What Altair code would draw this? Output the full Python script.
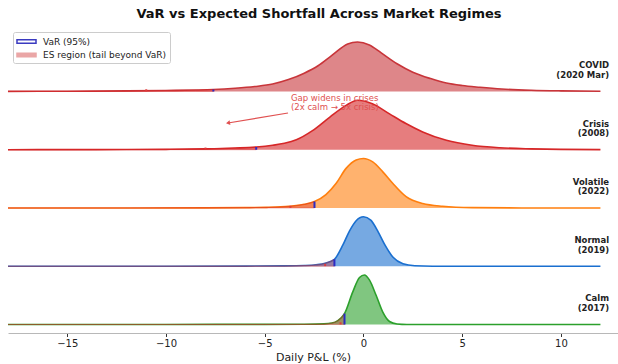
import altair as alt
import pandas as pd

# ---------------- data ----------------
regimes = ["Calm", "Normal", "Volatile", "Crisis", "COVID"]
periods = ["(2017)", "(2019)", "(2022)", "(2008)", "(2020 Mar)"]
colors = ["#2ca02c", "#1a6fcf", "#ff7f0e", "#d62728", "#c8353a"]

# density curves (relative to each ridge's peak)
calm_x = [-18, -10, -5, -3, -2, -1.6, -1.3, -0.96, -0.54, -0.2, 0.05, 0.3, 0.64, 0.98, 1.32, 1.7, 2.2, 4, 12]
calm_d = [0.0, 0.001, 0.003, 0.006, 0.012, 0.03, 0.08, 0.22, 0.66, 0.95, 1.0, 0.9, 0.59, 0.25, 0.06, 0.01, 0.0, 0.0, 0.0]
normal_x = [-18, -10, -6, -4, -3, -2.4, -1.94, -1.47, -1.04, -0.71, -0.37, 0.0, 0.37, 0.75, 1.1, 1.5, 2.0, 2.6, 3.5, 6, 12]
normal_d = [0.0, 0.001, 0.003, 0.007, 0.015, 0.03, 0.06, 0.14, 0.43, 0.71, 0.92, 1.0, 0.93, 0.69, 0.42, 0.18, 0.05, 0.01, 0.001, 0.0, 0.0]
volatile_x = [-18, -12, -8, -6, -4.9, -3.75, -3.0, -2.48, -1.9, -1.38, -0.88, -0.37, 0.0, 0.47, 0.98, 1.48, 2.16, 3.0, 4.0, 5.5, 8, 12]
volatile_d = [0.0, 0.001, 0.003, 0.007, 0.013, 0.035, 0.075, 0.13, 0.27, 0.5, 0.8, 0.97, 1.0, 0.93, 0.73, 0.5, 0.23, 0.09, 0.035, 0.008, 0.001, 0.0]
crisis_x = [-18, -15, -12, -10, -8, -6.5, -5.43, -4.6, -4.0, -3.4, -2.6, -1.7, -0.9, -0.3, 0.45, 1.3, 2.15, 3.0, 4.2, 5.5, 6.9, 8.5, 10, 12]
crisis_d = [0.001, 0.002, 0.004, 0.008, 0.018, 0.035, 0.055, 0.09, 0.13, 0.2, 0.38, 0.66, 0.89, 1.0, 0.93, 0.73, 0.53, 0.36, 0.19, 0.09, 0.04, 0.018, 0.008, 0.003]
covid_x = [-18, -15, -12, -10, -8.5, -7.6, -6.5, -5.5, -4.6, -3.8, -3.0, -2.3, -1.6, -0.8, -0.3, 0.3, 0.9, 1.7, 2.5, 3.4, 4.2, 5.0, 5.9, 7.0, 8.5, 10, 12]
covid_d = [0.003, 0.006, 0.012, 0.02, 0.03, 0.04, 0.065, 0.10, 0.15, 0.24, 0.37, 0.52, 0.73, 0.96, 1.0, 0.94, 0.78, 0.56, 0.39, 0.26, 0.17, 0.12, 0.085, 0.05, 0.025, 0.013, 0.006]

curves_x = [calm_x, normal_x, volatile_x, crisis_x, covid_x]
curves_d = [calm_d, normal_d, volatile_d, crisis_d, covid_d]

var_x = [-0.96, -1.47, -2.48, -5.43, -7.6]   # VaR (95%)
es_x = [-1.16, -1.94, -3.7, -8.0, -11.0]      # Expected shortfall

xticks = [-15, -10, -5, 0, 5, 10]
legend_names = ["VaR (95%)", "ES region (tail beyond VaR)"]
note_lines = ["Gap widens in crises", "(2x calm \u2192 5x crisis)"]

RIDGE_H = 0.85

# ---------------- tables ----------------
rows, tail_rows, var_rows, es_rows, lab_rows = [], [], [], [], []
for i, name in enumerate(regimes):
    for xv, dv in zip(curves_x[i], curves_d[i]):
        r = {"regime": name, "x": xv, "y": i + dv * RIDGE_H, "y2": i}
        rows.append(r)
        if xv <= var_x[i] + 1e-9:
            tail_rows.append(r)
        if abs(xv - var_x[i]) < 1e-9:
            var_rows.append({"regime": name, "x": xv, "y": i + dv * RIDGE_H, "y2": i})
    es_rows.append({"regime": name, "x": es_x[i], "y": i + 0.02})
    lab_rows.append({"x": 12.44, "y": i + 0.45, "t": name})
    lab_rows.append({"x": 12.44, "y": i + 0.287, "t": periods[i]})

curves = pd.DataFrame(rows)
tails = pd.DataFrame(tail_rows)
vars_df = pd.DataFrame(var_rows)
es_df = pd.DataFrame(es_rows)
labs = pd.DataFrame(lab_rows)
note_df = pd.DataFrame({"x": [-3.67, -3.67], "y": [3.888, 3.734], "t": note_lines})
arrow_df = pd.DataFrame({"x": [-3.82], "y": [3.631], "x2": [-6.86], "y2": [3.459]})
head_df = pd.DataFrame({"x": [-6.86], "y": [3.459]})
lg_df = pd.DataFrame({"lg": legend_names, "x": [100, 100], "y": [0, 0]})

# ---------------- encodings ----------------
X = alt.X("x:Q", scale=alt.Scale(domain=[-18, 12.89], nice=False, zero=False),
          axis=alt.Axis(values=xticks, title="Daily P&L (%)", grid=False,
                        tickSize=3.5, tickColor="#333333", domainColor="#b8b8b8",
                        labelFontSize=10, titleFontSize=11, labelPadding=2,
                        titlePadding=3, labelColor="#222222", titleColor="#222222",
                        titleFontWeight="normal"))
Y = alt.Y("y:Q", scale=alt.Scale(domain=[-0.146, 5.107], nice=False, zero=False), axis=None)
col = alt.Color("regime:N", scale=alt.Scale(domain=regimes, range=colors), legend=None)

fill_layer = alt.Chart(curves).mark_area(fillOpacity=0.6, interpolate="monotone").encode(
    x=X, y=Y, y2="y2:Q", color=col)
line_layer = alt.Chart(curves).mark_line(strokeWidth=1.6, interpolate="monotone").encode(
    x=X, y=Y, color=col)
tail_layer = alt.Chart(tails).mark_area(fill="#d62728", fillOpacity=0.35, stroke="#d62728",
                                        strokeOpacity=0.35, strokeWidth=1,
                                        interpolate="monotone").encode(
    x=X, y=Y, y2="y2:Q", detail="regime:N")
var_layer = alt.Chart(vars_df).mark_rule(color="#2b2bc4", strokeWidth=2).encode(
    x=X, y=Y, y2="y2:Q")
es_layer = alt.Chart(es_df).mark_square(color="#e03a3a", size=4, opacity=1).encode(x=X, y=Y)

lab_layer = alt.Chart(labs).mark_text(align="right", baseline="middle", fontSize=8.5,
                                      fontWeight="bold", color="#222222").encode(
    x=X, y=Y, text="t:N")
note_layer = alt.Chart(note_df).mark_text(align="left", baseline="middle", fontSize=8.5,
                                          color="#e05050").encode(x=X, y=Y, text="t:N")
arrow_layer = alt.Chart(arrow_df).mark_rule(color="#e05050", strokeWidth=1.2).encode(
    x=X, y=Y, x2="x2:Q", y2="y2:Q")
head_layer = alt.Chart(head_df).mark_point(shape="triangle-up", angle=260, filled=True,
                                           size=22, color="#e05050", opacity=1).encode(x=X, y=Y)

legend = alt.Legend(title=None, orient="none", legendX=5, legendY=5,
                    symbolType="M-1.73,-0.3H1.73V0.3H-1.73Z", symbolSize=121,
                    symbolStrokeWidth=1.5, labelFontSize=9, labelColor="#222222",
                    fillColor="white", strokeColor="#cccccc", padding=3, cornerRadius=2,
                    rowPadding=1.5, labelOffset=10, symbolOffset=4)
lg_layer = alt.Chart(lg_df).mark_square(clip=True, size=10, opacity=1, strokeWidth=1.5).encode(
    x=X, y=Y,
    fill=alt.Fill("lg:N", scale=alt.Scale(domain=legend_names, range=["white", "#eaa6a6"]), legend=legend),
    stroke=alt.Stroke("lg:N", scale=alt.Scale(domain=legend_names, range=["#3a3ac0", "#eaa6a6"]), legend=legend),
)

chart = alt.layer(fill_layer, line_layer, tail_layer, var_layer, es_layer, lab_layer,
                  note_layer, arrow_layer, head_layer, lg_layer).properties(
    width=610, height=306,
    padding={"left": 8, "top": 27, "right": 0, "bottom": 31},
    autosize=alt.AutoSizeParams(type="none"),
    title=alt.Title("VaR vs Expected Shortfall Across Market Regimes", fontSize=13,
                    fontWeight="bold", anchor="middle", offset=8, dx=6, dy=12, frame="group",
                    baseline="alphabetic", color="#111111"),
).configure(font="DejaVu Sans").configure_view(stroke=None, strokeWidth=0)

chart.save("out.html", embed_options={"renderer": "svg", "actions": False})
